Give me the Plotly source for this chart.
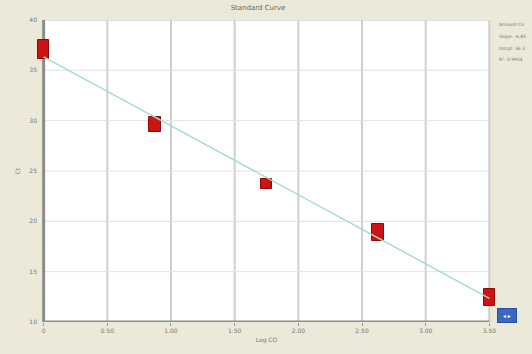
import numpy as np
import plotly.graph_objects as go

# Standard dilutions (log concentration) and replicate Ct range per standard
log_conc = [0.0, 0.875, 1.75, 2.625, 3.5]
ct_low = [36.1, 28.9, 23.2, 18.0, 11.6]
ct_high = [38.0, 30.4, 24.25, 19.75, 13.3]

x_ticks = [0, 0.5, 1.0, 1.5, 2.0, 2.5, 3.0, 3.5]
x_tick_text = ["0", "0.50", "1.00", "1.50", "2.00", "2.50", "3.00", "3.50"]
y_ticks = [10, 15, 20, 25, 30, 35, 40]
y_tick_text = ["10", "15", "20", "25", "30", "35", "40"]

X_MIN, X_MAX = x_ticks[0], x_ticks[-1]
Y_MIN, Y_MAX = y_ticks[0], y_ticks[-1]
PAD = 0.06  # room so the end blocks are not cut by the plot edge

ct_mean = [(a + b) / 2 for a, b in zip(ct_low, ct_high)]
slope, intercept = np.polyfit(log_conc, ct_mean, 1)
r = np.corrcoef(log_conc, ct_mean)[0, 1]

fit_x = [log_conc[0], log_conc[-1]]
fit_y = [intercept + slope * v for v in fit_x]

fig = go.Figure()

# white plotting panel
fig.add_shape(type="rect", xref="x", yref="y", x0=X_MIN, x1=X_MAX, y0=Y_MIN, y1=Y_MAX,
              fillcolor="#ffffff", line=dict(color="#c4c4c4", width=1), layer="below")
# grid
for xv in x_ticks[1:]:
    fig.add_shape(type="line", xref="x", yref="y", x0=xv, x1=xv, y0=Y_MIN, y1=Y_MAX,
                  line=dict(color="#cfcfcf", width=2), layer="below")
for yv in y_ticks[1:-1]:
    fig.add_shape(type="line", xref="x", yref="y", x0=X_MIN, x1=X_MAX, y0=yv, y1=yv,
                  line=dict(color="#e2e2e2", width=1), layer="below")
# axis lines
fig.add_shape(type="line", xref="x", yref="y", x0=X_MIN, x1=X_MIN, y0=Y_MIN, y1=Y_MAX,
              line=dict(color="#8c8c8c", width=3), layer="below")
fig.add_shape(type="line", xref="x", yref="y", x0=X_MIN, x1=X_MAX, y0=Y_MIN, y1=Y_MIN,
              line=dict(color="#8c8c8c", width=3), layer="below")

# regression line
fig.add_trace(go.Scatter(
    x=fit_x, y=fit_y, mode="lines",
    line=dict(color="#a9dcc6", width=1.5),
    hoverinfo="skip", showlegend=False,
))

# replicate spread drawn as red blocks
fig.add_trace(go.Bar(
    x=log_conc,
    y=[h - l for l, h in zip(ct_low, ct_high)],
    base=ct_low,
    width=0.09,
    marker=dict(color="#cc1414", line=dict(color="#8e0a0a", width=1)),
    showlegend=False,
))

fig.update_layout(
    width=532, height=354,
    margin=dict(l=36, r=35, t=20, b=27),
    paper_bgcolor="#ece9d8",
    plot_bgcolor="#ece9d8",
    font=dict(family="DejaVu Sans", size=6, color="#777777"),
    title=dict(text="Standard Curve", x=0.485, xanchor="center", y=0.985,
               yanchor="top", font=dict(size=7, color="#666666")),
    bargap=0,
    xaxis=dict(
        range=[X_MIN - PAD, X_MAX + PAD], tickvals=x_ticks, ticktext=x_tick_text,
        showgrid=False, showline=False, zeroline=False,
        ticks="outside", ticklen=3, tickcolor="#999999",
        title=dict(text="Log CO", font=dict(size=6, color="#777777"), standoff=4),
    ),
    yaxis=dict(
        range=[Y_MIN, Y_MAX], tickvals=y_ticks, ticktext=y_tick_text,
        showgrid=False, showline=False, zeroline=False,
        ticks="", ticklabelstandoff=-2,
        title=dict(text="Ct", font=dict(size=6, color="#777777"), standoff=8),
    ),
)

# statistics panel to the right of the plot
stats = [
    "Amount Co",
    f"Slope: {slope:.2f}",
    f"Intcpt: {intercept:.1f}",
    f"R\u00b2: {r * r:.4f}",
]
for i, s in enumerate(stats):
    fig.add_annotation(
        xref="paper", yref="paper", x=1.0, y=1.0 - i * 0.039,
        xanchor="left", yanchor="top", text=s, showarrow=False,
        font=dict(size=4.5, color="#777777"),
    )

# small navigation button
fig.add_annotation(
    xref="paper", yref="paper", x=1.0, y=0.045, xanchor="left", yanchor="top",
    text=" \u25c2 \u25b8 ", showarrow=False, bgcolor="#3a66c4",
    bordercolor="#2a4fa0", borderwidth=1, borderpad=3,
    font=dict(size=6, color="#ffffff"),
)

fig.write_html("out.html")
